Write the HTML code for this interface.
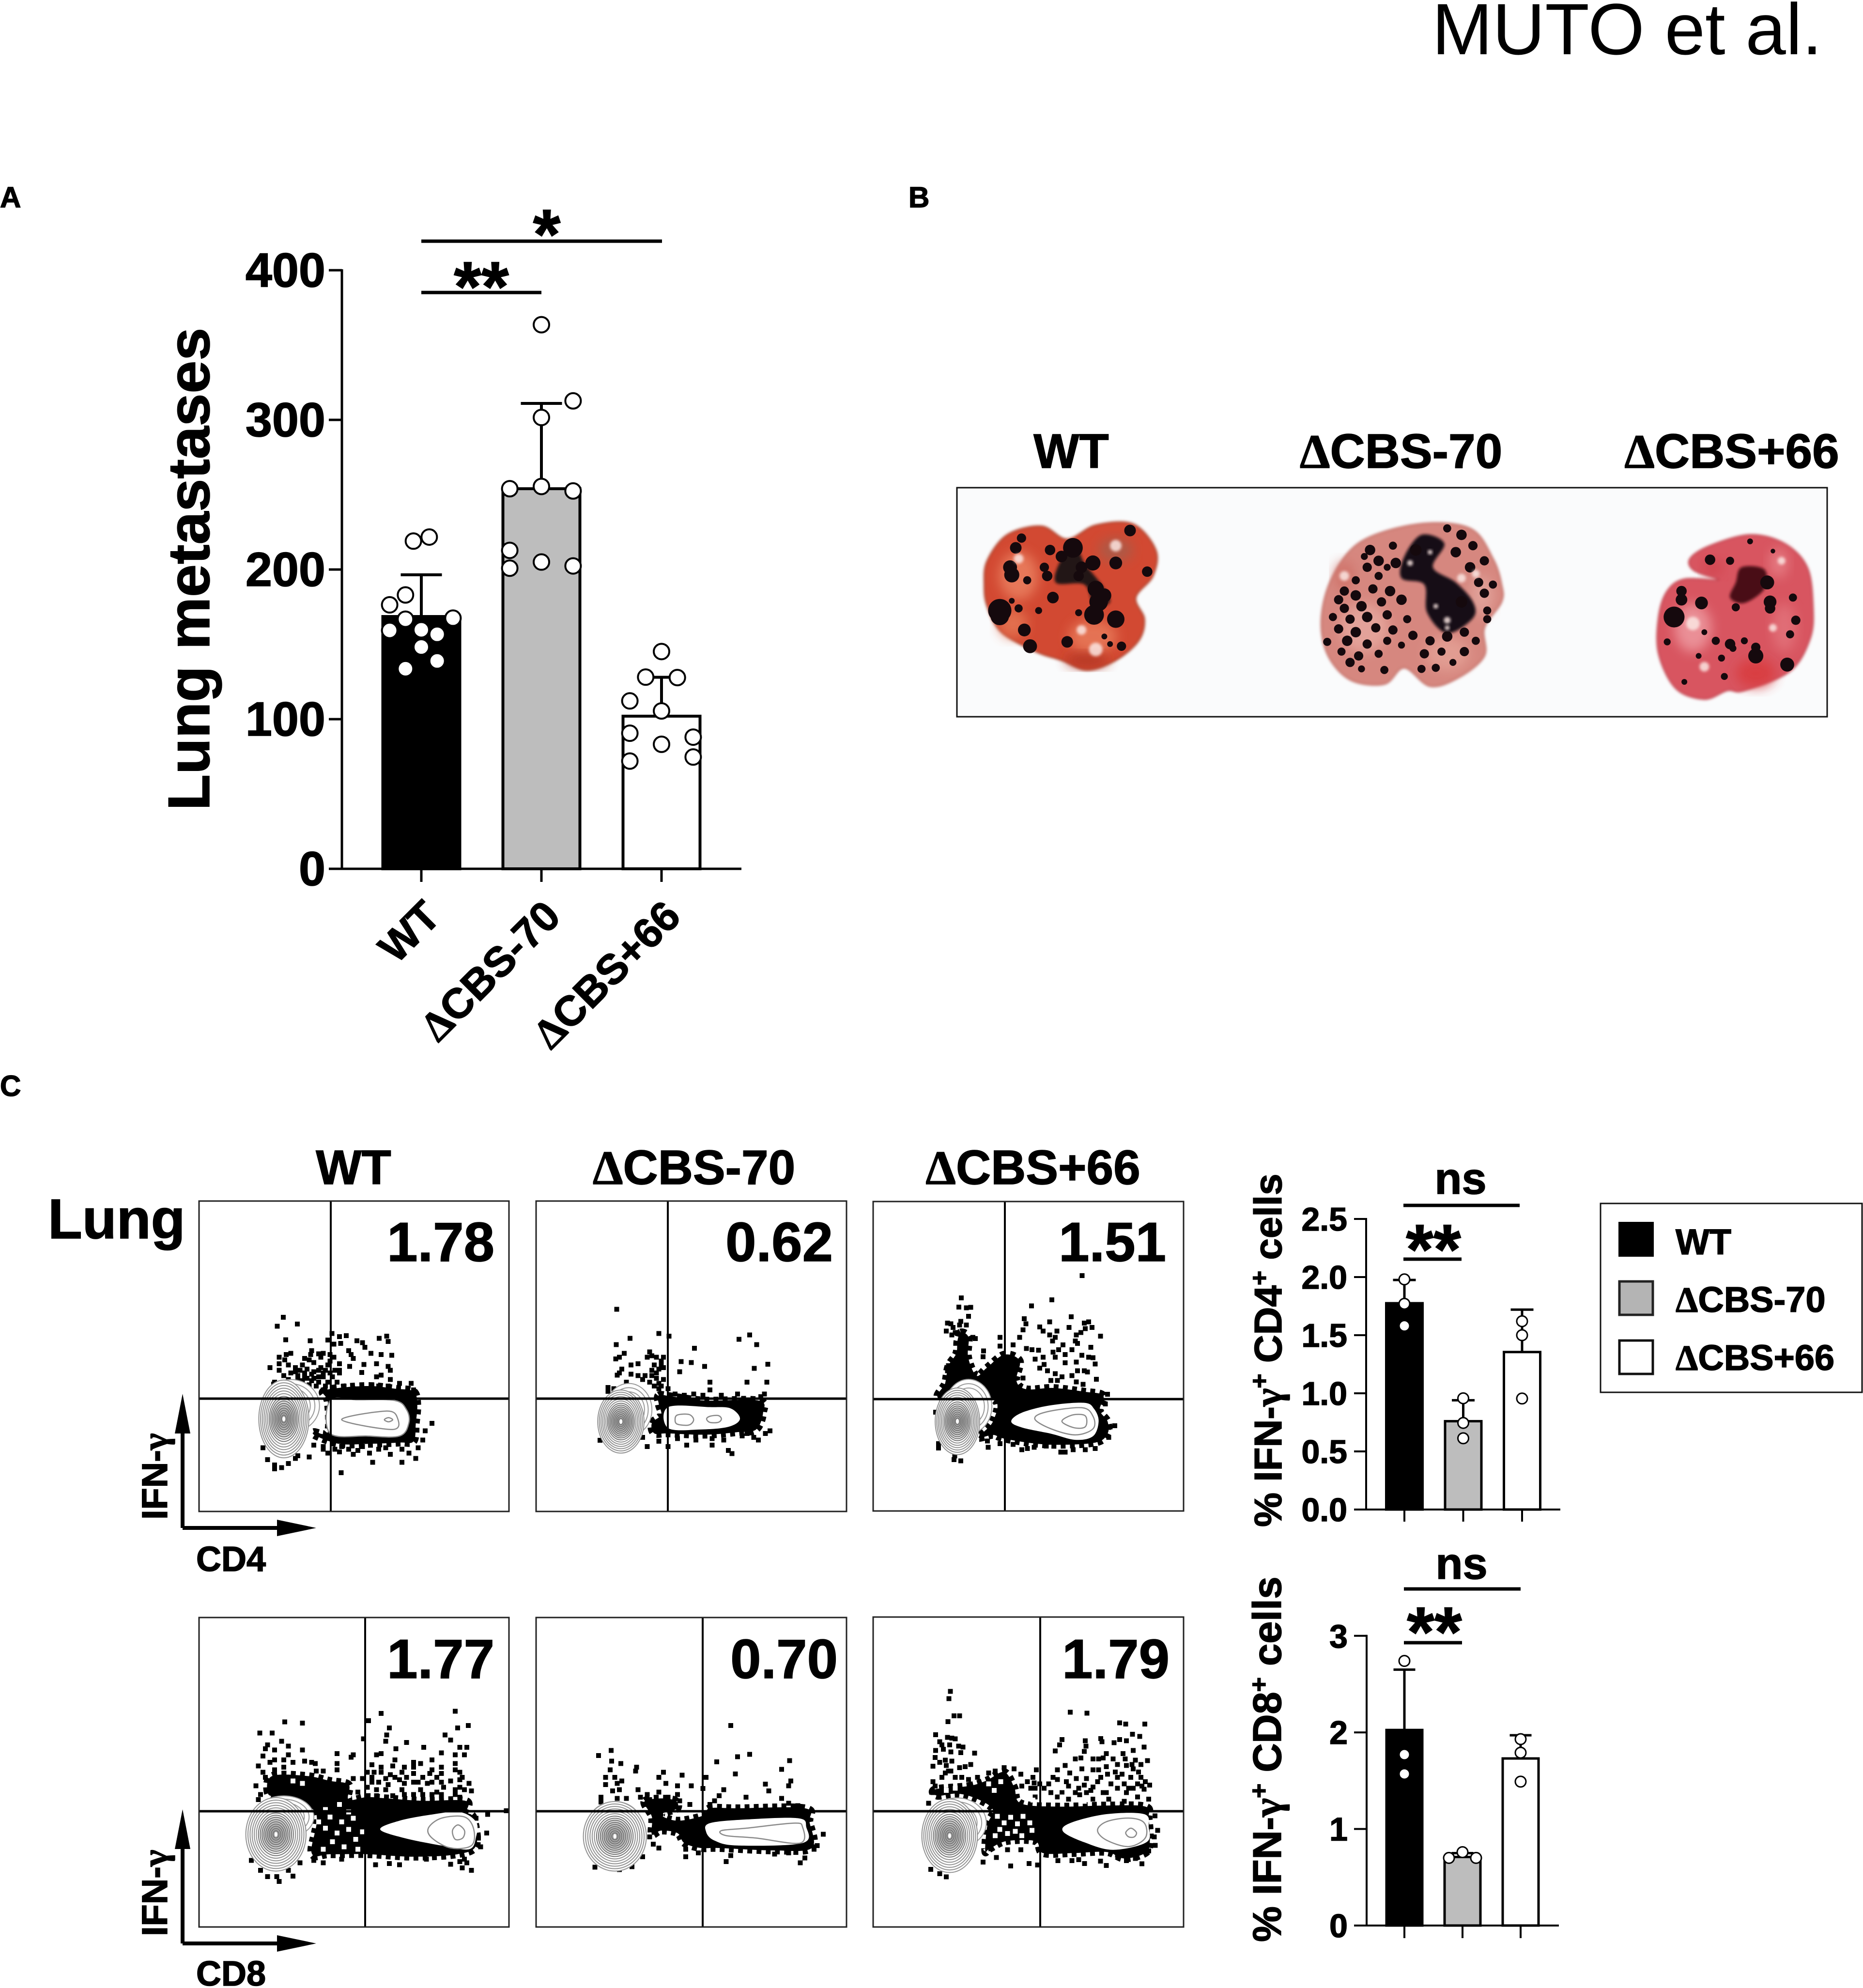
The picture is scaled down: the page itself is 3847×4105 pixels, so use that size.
<!DOCTYPE html>
<html lang="en">
<head>
<meta charset="utf-8">
<title>MUTO et al. figure</title>
<style>
html,body{margin:0;padding:0;background:#fff;}
svg{display:block;}
text{font-family:"Liberation Sans",sans-serif;fill:#000;}
.b{font-weight:700;stroke:#000;stroke-width:1.5px;}
.sym{font-family:"Liberation Serif",serif;}
</style>
</head>
<body>
<svg id="figure" xmlns="http://www.w3.org/2000/svg" width="3847" height="4105" viewBox="0 0 3847 4105">
<defs>
<filter id="soft" x="-30%" y="-30%" width="160%" height="160%"><feGaussianBlur stdDeviation="12"/></filter>
<filter id="softer" x="-30%" y="-30%" width="160%" height="160%"><feGaussianBlur stdDeviation="3"/></filter>
</defs>
<rect x="0" y="0" width="3847" height="4105" fill="#fff"/>
<text x="2957" y="112" font-size="150">MUTO et al.</text>
<text class="b" x="0" y="428" font-size="60">A</text>
<text class="b" x="1876" y="428" font-size="60">B</text>
<text class="b" x="0" y="2263" font-size="60">C</text>

<g id="panel-a">
<text class="b" transform="translate(432,1175) rotate(-90)" text-anchor="middle" font-size="122">Lung metastases</text>
<line x1="870" x2="1367" y1="498" y2="498" stroke="#000" stroke-width="7"/>
<line x1="870" x2="1118" y1="604" y2="604" stroke="#000" stroke-width="7"/>
<text class="b" x="1129" y="534" text-anchor="middle" font-size="146">*</text>
<text class="b" x="994" y="642" text-anchor="middle" font-size="146">**</text>
</g>

<g id="panel-b">
<text class="b" x="2212" y="966" text-anchor="middle" font-size="100">WT</text>
<text class="b" x="2893" y="966" text-anchor="middle" font-size="100"><tspan class="sym">Δ</tspan>CBS-70</text>
<text class="b" x="3576" y="966" text-anchor="middle" font-size="100"><tspan class="sym">Δ</tspan>CBS+66</text>
<rect x="1976" y="1007" width="1797" height="473" fill="#fafbfc" stroke="#111" stroke-width="3"/>
<g id="lungs"></g>
</g>

<g id="panel-c">
<text class="b" x="730" y="2445" text-anchor="middle" font-size="100">WT</text>
<text class="b" x="1433" y="2445" text-anchor="middle" font-size="100"><tspan class="sym">Δ</tspan>CBS-70</text>
<text class="b" x="2133" y="2445" text-anchor="middle" font-size="100"><tspan class="sym">Δ</tspan>CBS+66</text>
<text class="b" x="99" y="2557" font-size="116">Lung</text>

<g id="flow-plots"></g>

<text class="b" x="1021" y="2604" text-anchor="end" font-size="114">1.78</text>
<text class="b" x="1720" y="2604" text-anchor="end" font-size="114">0.62</text>
<text class="b" x="2408" y="2604" text-anchor="end" font-size="114">1.51</text>
<text class="b" x="1021" y="3465" text-anchor="end" font-size="114">1.77</text>
<text class="b" x="1730" y="3465" text-anchor="end" font-size="114">0.70</text>
<text class="b" x="2415" y="3465" text-anchor="end" font-size="114">1.79</text>

<g>
<path d="M377 3155V2950M377 3155H580" fill="none" stroke="#000" stroke-width="8"/>
<path d="M377 2878L393 2960H361Z" fill="#000"/>
<path d="M653 3155L572 3138V3172Z" fill="#000"/>
<text class="b" transform="translate(345,3138) rotate(-90)" font-size="74">IFN-<tspan class="sym">γ</tspan></text>
<text class="b" x="405" y="3244" font-size="72">CD4</text>
</g>
<g>
<path d="M377 4013V3808M377 4013H580" fill="none" stroke="#000" stroke-width="8"/>
<path d="M377 3736L393 3818H361Z" fill="#000"/>
<path d="M653 4013L572 3996V4030Z" fill="#000"/>
<text class="b" transform="translate(345,3998) rotate(-90)" font-size="74">IFN-<tspan class="sym">γ</tspan></text>
<text class="b" x="405" y="4100" font-size="72">CD8</text>
</g>
</g>

<g id="chart-cd4">
<text class="b" transform="translate(2646,3153) rotate(-90)" font-size="80">% IFN-<tspan class="sym">γ</tspan><tspan dy="-28" font-size="52">+</tspan><tspan dy="28"> CD4</tspan><tspan dy="-28" font-size="52">+</tspan><tspan dy="28"> cells</tspan></text>
<text class="b" x="3016" y="2465" text-anchor="middle" font-size="92">ns</text>
<line x1="2898" x2="3138" y1="2489" y2="2489" stroke="#000" stroke-width="7"/>
<text class="b" x="2960" y="2630" text-anchor="middle" font-size="146">**</text>
<line x1="2898" x2="3018" y1="2600" y2="2600" stroke="#000" stroke-width="7"/>
</g>

<g id="chart-cd8">
<text class="b" transform="translate(2645,4010) rotate(-90)" font-size="83">% IFN-<tspan class="sym">γ</tspan><tspan dy="-28" font-size="52">+</tspan><tspan dy="28"> CD8</tspan><tspan dy="-28" font-size="52">+</tspan><tspan dy="28"> cells</tspan></text>
<text class="b" x="3018" y="3260" text-anchor="middle" font-size="92">ns</text>
<line x1="2899" x2="3140" y1="3281" y2="3281" stroke="#000" stroke-width="7"/>
<text class="b" x="2962" y="3420" text-anchor="middle" font-size="146">**</text>
<line x1="2899" x2="3019" y1="3392" y2="3392" stroke="#000" stroke-width="7"/>
</g>

<g id="legend">
<rect x="3305" y="2485" width="540" height="390" fill="#fff" stroke="#111" stroke-width="3"/>
<rect x="3342" y="2523" width="73" height="72" fill="#000"/>
<rect x="3344" y="2646" width="69" height="69" fill="#b4b4b4" stroke="#222" stroke-width="5"/>
<rect x="3344" y="2768" width="69" height="69" fill="#fff" stroke="#111" stroke-width="5"/>
<text class="b" x="3460" y="2590" font-size="74">WT</text>
<text class="b" x="3460" y="2709" font-size="74"><tspan class="sym">Δ</tspan>CBS-70</text>
<text class="b" x="3460" y="2829" font-size="74"><tspan class="sym">Δ</tspan>CBS+66</text>
</g>
</svg>

<script>
/* ---------- Panel A data ---------- */
const aCategories=['WT','CBS-70','CBS+66'];
const aTicks=[0,100,200,300,400];
const aMeans=[168.6,254,102];
const aErrorTops=[196.5,311,128];
const aWtValues=[219,221.7,183,176.4,166.8,167.5,159.3,159.7,156.7,148.2,133.7,138.9];
const aWtSlots=[-0.5,0.5,-1,-2,-1,2,-2,0,1,0,-1,1];
const aMinus70Values=[363.6,312.7,301.6,254,255.5,252.5,212.8,200.9,205,202.4];
const aMinus70Slots=[0,2,0,-2,0,2,-2,-2,0,2];
const aPlus66Values=[145.2,128.1,127.8,112.2,105.5,90.6,88,83.2,74.7,72];
const aPlus66Slots=[0,-1,1,-2,0,-2,2,0,2,-2];

/* ---------- Panel C CD4 bar chart data ---------- */
const cd4Ticks=['0.0','0.5','1.0','1.5','2.0','2.5'];
const cd4Means=[1.775,0.76,1.355];
const cd4ErrorTops=[1.975,0.94,1.72];
const cd4Wt=[1.98,1.77,1.58];
const cd4Minus70=[0.957,0.745,0.613];
const cd4Plus66=[1.62,1.5,0.955];

/* ---------- Panel C CD8 bar chart data ---------- */
const cd8Ticks=['0','1','2','3'];
const cd8Means=[2.025,0.71,1.73];
const cd8ErrorTops=[2.65,0.75,1.97];
const cd8Wt=[2.74,1.77,1.57];
const cd8Minus70=[0.7,0.76,0.7];
const cd8Minus70Slots=[-1,0,1];
const cd8Plus66=[1.93,1.79,1.49];

/* ---------- Flow plot events (arbitrary channel units) ---------- */
const cd4WtDots=[[319,498],[306,532],[349,524],[324,584],[377,588],[424,560],[440,572],[455,568],[415,585],[428,600],[443,598],[478,588],[490,595],[495,612],[526,578],[542,570],[545,590],[460,625],[465,640],[470,655],[508,635],[530,640],[553,643],[380,625],[378,640],[395,637],[405,635],[420,640],[428,650],[335,635],[325,640],[310,650],[322,660],[365,655],[375,660],[385,670],[360,680],[290,690],[310,675],[330,680],[345,690],[420,665],[415,680],[440,675],[462,685],[493,678],[520,675],[545,685],[550,700],[488,708],[530,718],[520,725],[550,735],[335,710],[320,720],[345,705],[300,745],[298,752],[365,710],[380,715],[395,725],[405,710],[425,725],[435,745],[380,740],[395,745],[410,760],[405,775],[370,695],[385,705],[350,700],[400,690],[410,700],[450,760],[470,770],[510,755],[525,760],[545,760],[570,750],[595,750],[600,775],[640,902],[625,930],[620,965],[610,995],[385,985],[375,1030],[405,1000],[415,1015],[430,1000],[445,990],[460,1000],[470,1020],[490,990],[512,1050],[525,1000],[550,1020],[575,1050],[590,1015],[605,1035],[444,1090],[300,1060],[285,1040],[300,1075],[315,1070],[330,1055],[345,1035],[350,1025],[275,995],[405,990],[490,960],[520,970],[440,1010],[480,1005],[505,1015],[540,995],[575,1000],[350,720],[360,740],[375,755],[390,760],[355,700],[420,710],[430,700],[400,650],[440,710],[415,745],[425,765],[310,700],[330,735],[350,730],[365,725],[440,700],[395,700],[405,725],[385,730],[370,730]];
const cd4WtDense=[[405,780],[450,765],[510,760],[560,770],[600,780],[608,830],[605,900],[600,970],[570,975],[500,980],[440,980],[390,950],[385,935],[415,935],[415,820]];
const cd4WtHollow=[[420,815],[480,812],[560,815],[585,850],[590,900],[570,950],[500,950],[420,940]];
const cd4WtContours=[[[420,815],[480,812],[560,815],[585,850],[590,900],[570,950],[500,950],[420,940]],[[445,888],[540,855],[565,880],[555,925]],[[537,888],[546,880],[555,888],[546,896]]];
const cd4WtRings=[320,885,54,148];
const cd4WtLobe=[335,835,62,100];

const cd4Minus70Dots=[[1039,468],[1068,578],[1038,602],[1130,560],[1152,570],[1303,582],[1326,565],[1341,602],[1207,616],[1055,635],[1045,650],[1037,657],[1110,630],[1115,645],[1105,650],[1140,650],[1135,665],[1178,667],[1200,670],[1229,685],[1365,677],[1336,693],[1085,675],[1070,680],[1050,695],[1045,710],[1040,718],[1120,680],[1130,695],[1140,690],[1125,710],[1115,720],[1175,705],[1070,715],[1085,720],[1095,735],[1110,745],[1130,750],[1060,745],[1020,765],[1033,770],[1020,780],[1240,745],[1320,745],[1363,745],[1240,775],[1150,770],[1130,770],[1165,790],[1185,795],[1205,790],[1225,795],[1265,795],[1300,790],[1358,790],[1350,800],[1003,966],[1105,990],[1095,955],[1190,985],[1245,985],[1288,1017],[1280,1005],[1370,930],[1345,965],[1360,940],[1150,990],[1130,970],[1170,960],[1210,965],[1245,960],[1270,965],[1310,950],[1335,955],[1320,940],[1125,730],[1140,735],[1135,760],[1120,760],[1125,650],[1135,680],[1115,700],[1100,720]];
const cd4Minus70Dense=[[1130,795],[1160,800],[1230,815],[1345,815],[1355,860],[1340,925],[1300,935],[1230,945],[1150,940],[1120,940],[1115,900],[1135,870],[1130,830]];
const cd4Minus70Hollow=[[1150,840],[1240,840],[1285,845],[1305,885],[1280,915],[1220,925],[1150,920]];
const cd4Minus70Contours=[[[1170,870],[1195,868],[1205,888],[1195,908],[1170,905],[1165,888]],[[1240,875],[1258,872],[1265,885],[1258,898],[1240,898],[1233,885]]];
const cd4Minus70Rings=[1048,895,50,120];
const cd4Minus70Lobe=[1065,850,50,100];

const cd4Plus66Dots=[[991,360],[855,458],[763,483],[447,450],[437,487],[470,490],[490,488],[480,525],[445,545],[385,552],[380,585],[730,535],[738,555],[845,547],[942,527],[1000,552],[1020,547],[725,580],[800,568],[815,585],[878,585],[932,570],[1005,575],[1035,570],[1073,605],[710,610],[845,600],[870,610],[858,625],[965,600],[985,590],[960,625],[970,635],[622,610],[622,645],[680,640],[510,615],[548,665],[545,688],[1030,650],[740,655],[765,660],[795,662],[905,640],[885,660],[860,670],[945,660],[915,680],[990,683],[1020,690],[1040,692],[815,690],[870,690],[780,698],[915,713],[965,710],[1050,718],[820,720],[800,735],[835,745],[870,757],[970,745],[1000,745],[1015,750],[725,775],[850,785],[880,785],[900,770],[945,765],[965,790],[995,800],[1055,780],[1105,840],[1095,880],[1138,968],[1110,975],[1095,1000],[1110,1015],[332,913],[345,1040],[345,1058],[565,1030],[568,1055],[622,1040],[680,1043],[720,1065],[745,1060],[775,1055],[830,1050],[895,1075],[915,1075],[950,1065],[1005,1065],[1050,1060],[418,1090],[445,1110],[415,1105],[575,998],[390,725],[385,745],[440,560],[420,590],[410,570],[400,555],[470,560],[455,590],[405,600],[500,610]];
const cd4Plus66Dense=[[445,590],[480,610],[478,690],[515,765],[560,735],[640,680],[710,705],[695,785],[740,820],[860,815],[1000,830],[1085,845],[1070,905],[1105,950],[1105,1000],[1055,1035],[900,1045],[780,1040],[640,1020],[590,1005],[525,1015],[590,950],[590,860],[352,860],[375,795],[390,725],[425,675],[430,625]];
const cd4Plus66Hollow=[[672,950],[720,915],[850,885],[1000,875],[1045,900],[1065,950],[1040,1010],[960,1025],[850,1000],[720,975]];
const cd4Plus66Contours=[[[778,940],[830,912],[990,895],[1040,930],[1040,980],[960,1005],[850,980]],[[900,950],[945,925],[1000,925],[1012,950],[1000,975],[950,975]]];
const cd4Plus66Rings=[430,950,100,135];
const cd4Plus66Lobe=[480,890,105,110];

const cd8WtDots=[[530,463],[690,454],[503,492],[322,497],[360,502],[548,522],[718,512],[695,522],[268,542],[295,542],[542,550],[492,565],[668,550],[680,570],[540,575],[585,580],[315,575],[330,595],[285,590],[360,610],[622,600],[715,600],[700,600],[280,605],[300,610],[530,625],[470,630],[435,625],[465,640],[330,630],[275,635],[562,605],[520,630],[660,622],[640,650],[690,630],[710,630],[615,665],[365,655],[388,665],[435,665],[300,650],[265,675],[320,680],[510,670],[530,680],[555,675],[580,680],[600,680],[690,665],[660,680],[635,705],[660,705],[700,700],[390,695],[405,695],[435,690],[515,700],[550,710],[575,700],[600,705],[620,720],[650,720],[680,735],[525,740],[545,750],[570,730],[600,740],[720,745],[725,775],[665,760],[630,745],[615,770],[575,770],[555,795],[520,795],[480,780],[500,760],[470,725],[490,725],[260,755],[265,810],[385,1055],[405,1065],[445,1050],[518,1072],[548,1068],[570,1072],[628,1050],[680,1070],[700,1060],[715,1065],[725,1095],[705,1085],[270,1095],[285,1120],[310,1140],[305,1120],[330,1095],[340,1118],[250,1055],[355,1065],[745,1000],[758,945],[740,965],[760,870],[800,855],[735,885],[710,1050],[580,790],[640,790],[690,790],[700,760],[510,720],[530,700],[560,720],[585,720],[610,740],[640,740],[660,740],[700,730],[690,770],[650,780],[600,790],[540,770],[510,740],[500,700],[640,690],[600,660],[560,650],[690,690],[705,720],[710,770],[620,790],[580,745],[540,725],[660,790],[700,800],[520,770],[380,660],[320,650],[290,660],[300,690],[275,700],[340,660],[280,720],[310,740],[295,770],[270,790]];
const cd8WtDense=[[285,780],[295,715],[370,715],[420,735],[460,750],[460,810],[500,800],[540,805],[620,815],[712,815],[715,860],[730,885],[735,995],[695,1030],[600,1040],[500,1030],[420,1030],[380,1025],[388,860],[305,805]];
const cd8WtGaps=[[420,880],[445,900],[470,885],[410,925],[435,945],[460,930],[425,980],[450,1000],[475,970],[405,1010],[490,940],[340,735],[360,745],[395,900],[460,860],[410,850],[480,1010],[440,830]];
const cd8WtHollow=[[528,930],[570,895],[640,870],[700,860],[735,900],[735,960],[720,1010],[660,995],[580,965]];
const cd8WtContours=[[[632,925],[660,885],[710,880],[730,930],[725,995],[680,1005],[640,965]],[[684,935],[696,912],[710,935],[706,965],[690,970]]];
const cd8WtRings=[303,950,65,148];
const cd8WtLobe=[320,880,65,85];

const cd8Minus70Dots=[[1285,512],[1027,612],[1000,633],[1326,628],[1300,638],[1028,655],[1048,665],[1255,658],[1412,653],[1025,690],[1082,680],[1080,695],[1395,688],[1295,707],[1140,700],[1130,720],[1180,712],[1232,720],[1015,720],[1035,720],[1050,735],[1015,750],[1040,745],[1415,735],[1410,755],[1360,748],[1367,775],[1170,755],[1200,755],[1145,745],[1030,775],[1045,770],[1085,770],[1105,790],[1225,765],[1270,770],[1318,800],[1260,795],[1250,815],[1240,830],[1395,805],[1410,825],[1430,835],[1005,800],[1005,820],[1040,805],[1060,805],[1197,830],[1090,800],[1130,780],[1150,800],[1120,830],[1130,850],[1160,835],[1170,790],[1485,950],[1472,995],[1465,1010],[1445,1045],[1435,1065],[1275,1060],[1285,1035],[1215,1025],[1188,1040],[1188,1010],[1130,1005],[1118,990],[1110,960],[1095,1040],[992,1082],[1045,1092],[1072,1080],[1380,1030],[1410,1025],[1110,810],[1135,815],[1155,820],[1100,830],[1175,815]];
const cd8Minus70Dense=[[1100,815],[1160,810],[1170,845],[1135,870],[1170,895],[1225,875],[1240,845],[1300,845],[1445,845],[1455,900],[1460,1005],[1380,1015],[1260,1005],[1220,1005],[1185,985],[1170,945],[1135,935],[1115,950],[1115,880]];
const cd8Minus70Hollow=[[1240,905],[1320,890],[1430,885],[1448,920],[1440,985],[1300,995],[1250,975],[1232,940]];
const cd8Minus70Contours=[[[1265,935],[1320,925],[1420,905],[1440,920],[1435,985],[1340,965],[1275,955]]];
const cd8Minus70Rings=[1035,958,68,140];
const cd8Minus70Lobe=[1035,900,55,82];

const cd8Plus66Dots=[[398,432],[392,466],[415,545],[440,545],[388,572],[937,528],[1013,533],[1160,578],[1187,583],[1273,583],[332,632],[385,645],[405,648],[350,665],[420,652],[900,655],[890,680],[1005,660],[1075,650],[1080,665],[1217,630],[1250,640],[1190,660],[1160,655],[1135,670],[1008,685],[870,707],[360,680],[395,680],[435,685],[455,690],[332,705],[367,700],[400,712],[445,715],[507,718],[1000,710],[1270,690],[1220,705],[1100,720],[1085,740],[1065,745],[1040,745],[985,740],[960,745],[1175,720],[1185,745],[1230,750],[1285,752],[330,738],[375,750],[405,755],[320,778],[490,770],[465,780],[440,785],[380,775],[1255,770],[1190,775],[1100,780],[1215,770],[990,790],[915,775],[880,795],[685,790],[640,785],[785,795],[1040,795],[1065,795],[1105,815],[1140,805],[1245,805],[1170,815],[935,810],[715,815],[770,830],[965,835],[1010,835],[1075,830],[860,830],[880,840],[745,850],[775,855],[1275,850],[1295,865],[1120,860],[1040,875],[1000,865],[330,870],[320,850],[300,950],[320,900],[345,900],[1270,885],[930,870],[1290,930],[1240,920],[850,900],[880,920],[930,930],[980,910],[1040,930],[1100,900],[1150,880],[1190,900],[1220,880],[1110,930],[1180,940],[780,920],[820,880],[375,810],[400,800],[420,830],[1150,830],[1210,830],[1240,860],[1180,860],[1060,850],[1010,900],[960,900],[900,900],[840,860],[800,860],[1255,830],[1130,745],[1150,770],[1220,790],[1260,870],[1200,880],[1085,900],[1030,890],[975,880],[920,850],[350,760],[390,800],[360,830],[450,830],[480,840],[520,830],[570,810],[600,800],[720,870],[760,880],[780,880],[1318,1008],[1330,1075],[1315,1105],[1320,1145],[1290,1170],[545,1222],[605,1200],[670,1240],[752,1228],[790,1235],[882,1215],[945,1215],[975,1210],[1002,1228],[1073,1217],[1100,1238],[1260,1230],[1190,1215],[1150,1190],[1230,1205],[310,1255],[350,1275],[380,1290],[655,1165],[715,1165],[605,1130],[580,1160]];
const cd8Plus66Dense=[[480,870],[560,845],[640,805],[685,875],[715,950],[880,965],[1100,960],[1275,965],[1290,1020],[1295,1130],[1275,1180],[1180,1205],[1100,1175],[950,1180],[815,1180],[780,1125],[650,1125],[575,1160],[555,1170],[565,1050],[590,980],[520,930],[430,905],[340,915],[330,885]];
const cd8Plus66Gaps=[[610,1010],[640,1040],[670,1015],[700,1045],[725,1010],[755,1040],[620,1070],[655,1090],[690,1080],[720,1100],[765,1075],[600,1100],[745,910],[770,935],[810,920],[850,935],[900,920],[1000,940],[1060,930],[1150,945],[420,880],[380,890],[570,860],[595,890],[625,850]];
const cd8Plus66Hollow=[[905,1080],[940,1040],[1100,1000],[1270,1000],[1290,1060],[1280,1130],[1130,1165],[1000,1130]];
const cd8Plus66Contours=[[[1060,1075],[1100,1035],[1200,1018],[1270,1040],[1275,1110],[1200,1150],[1100,1120]],[[1187,1085],[1210,1065],[1235,1085],[1225,1105],[1200,1105]]];
const cd8Plus66Rings=[395,1100,125,170];
const cd8Plus66Lobe=[430,1040,130,115];

/* ---------- Lung photo spots ---------- */
const lungWtOutline=[[70,800],[75,690],[110,570],[170,530],[215,590],[265,525],[330,520],[370,640],[365,760],[335,860],[350,960],[340,1060],[300,1150],[250,1195],[205,1150],[160,1110],[100,1020],[75,900]];
const lungWtSpots=[[97,920,20],[97,945,16],[115,720,12],[118,755,13],[150,1085,12],[140,1010,11],[215,1065,10],[262,940,17],[300,960,15],[270,880,16],[265,820,14],[280,850,12],[260,700,13],[300,700,11],[325,550,10],[355,740,9],[225,630,17],[205,670,10],[185,640,9],[135,585,8],[125,630,10],[175,720,8],[240,720,10],[130,910,7],[118,875,5],[145,780,7],[235,930,6],[310,1085,8],[280,1040,5],[290,1075,5],[180,760,9],[165,920,6],[235,760,9],[190,860,10]];
const lungWtCore=[[205,680],[228,610],[245,700],[275,800],[290,880],[262,895],[245,800],[195,790]];
const lungWtGlints=[[130,680,10],[300,620,12],[265,1100,14],[240,1010,10]];
const lungMinusOutline=[[660,950],[680,760],[730,600],[830,520],[920,540],[960,680],[975,800],[975,880],[945,1000],[945,1130],[900,1230],[850,1270],[805,1185],[770,1260],[710,1240],[670,1120]];
const lungMinusSpots=[[700,830,8],[720,780,7],[740,720,8],[760,690,9],[745,640,9],[690,870,8],[720,850,9],[750,820,8],[780,830,9],[700,910,8],[730,900,9],[765,880,8],[800,870,9],[680,950,7],[710,960,8],[740,950,9],[775,940,8],[810,960,7],[690,1005,8],[720,1020,9],[755,1000,8],[785,1010,8],[670,1065,7],[705,1060,9],[740,1075,8],[775,1060,7],[695,1110,7],[725,1130,8],[760,1120,7],[710,1160,8],[770,1195,7],[730,1190,6],[835,1190,7],[860,1185,7],[890,1160,6],[840,1120,8],[870,1110,7],[910,1110,8],[930,1060,7],[850,1060,8],[880,1040,9],[910,1020,8],[800,1080,6],[820,1035,8],[950,920,7],[945,840,8],[960,800,7],[935,790,8],[945,690,8],[905,570,9],[925,620,8],[880,540,7],[760,760,7],[735,670,6],[775,720,6],[785,620,7],[895,650,9],[920,720,9],[825,640,10],[790,700,9],[905,880,10],[950,960,7]];
const lungMinusCore=[[835,570],[875,610],[855,720],[895,790],[925,880],[925,955],[880,1025],[845,930],[840,800],[800,770],[805,670]];
const lungMinusGlints=[[880,965,7],[815,700,6],[905,770,9],[860,900,5],[880,1000,5],[930,750,8],[700,760,10],[850,650,5]];
const lungPlusOutline=[[1250,950],[1265,830],[1295,775],[1355,778],[1312,735],[1305,680],[1340,620],[1410,570],[1470,610],[1510,720],[1520,900],[1515,1050],[1480,1200],[1400,1290],[1370,1290],[1330,1330],[1280,1280],[1250,1120]];
const lungPlusSpots=[[1277,950,18],[1325,885,11],[1290,830,9],[1290,870,10],[1440,790,12],[1445,880,11],[1445,910,9],[1420,1130,13],[1475,1170,12],[1485,860,7],[1375,1075,9],[1375,690,7],[1340,685,9],[1265,1065,6],[1350,1060,7],[1400,1060,6],[1330,1020,5],[1360,1140,6],[1490,965,8],[1480,1030,7],[1320,1130,5],[1385,905,7],[1410,600,5],[1450,645,4],[1365,1225,6],[1295,1250,5],[1420,1090,8],[1380,1095,6]];
const lungPlusCore=[[1395,720],[1435,730],[1435,820],[1400,885],[1375,860],[1385,790]];
const lungPlusGlints=[[1310,980,14],[1465,690,8],[1330,1180,10],[1450,1000,8]];

/* ---------- helpers ---------- */
const NS='http://www.w3.org/2000/svg';
function make(tag,attrs,parent){
  const n=document.createElementNS(NS,tag);
  for(const k in attrs){n.setAttribute(k,attrs[k]);}
  parent.appendChild(n);
  return n;
}
function smoothPath(pts,mapX,mapY){
  const p=pts.map(q=>[mapX(q[0]),mapY(q[1])]);
  const n=p.length;
  let d='M'+p[0][0].toFixed(1)+' '+p[0][1].toFixed(1);
  for(let i=0;i<n;i++){
    const a=p[(i-1+n)%n],b=p[i],c=p[(i+1)%n],e=p[(i+2)%n];
    const c1x=b[0]+(c[0]-a[0])/6,c1y=b[1]+(c[1]-a[1])/6;
    const c2x=c[0]-(e[0]-b[0])/6,c2y=c[1]-(e[1]-b[1])/6;
    d+='C'+c1x.toFixed(1)+' '+c1y.toFixed(1)+' '+c2x.toFixed(1)+' '+c2y.toFixed(1)+' '+c[0].toFixed(1)+' '+c[1].toFixed(1);
  }
  return d+'Z';
}

/* ---------- bar charts ---------- */
function barChart(root,cfg,means,errs,groups,slots,ticks){
  const yScale=v=>cfg.y0-v*cfg.unit;
  const xScale=i=>cfg.x0+i*cfg.step;
  const fills=['#000','#bdbdbd','#fff'];
  means.forEach((m,i)=>{
    const bar=make('rect',{x:xScale(i)-cfg.barW/2+cfg.sw/2,y:yScale(m),width:cfg.barW-cfg.sw,height:cfg.y0-yScale(m),fill:fills[i],stroke:'#000','stroke-width':cfg.sw},root);
    
    
    const err=make('path',{d:'M'+xScale(i)+' '+yScale(m)+'V'+yScale(errs[i])+'M'+(xScale(i)-cfg.capW/2)+' '+yScale(errs[i])+'H'+(xScale(i)+cfg.capW/2),fill:'none',stroke:'#000','stroke-width':cfg.sw},root);
    
    
  });
  groups.forEach((vals,i)=>{
    vals.forEach((v,j)=>{
      const s=slots[i]?slots[i][j]:0;
      const dot=make('circle',{cx:xScale(i)+s*cfg.slotW,cy:yScale(v),r:cfg.r,fill:'#fff',stroke:'#000','stroke-width':cfg.dotSw},root);
      
      
    });
  });
  const yAxis=make('line',{x1:cfg.axisX,x2:cfg.axisX,y1:yScale(Number(ticks[ticks.length-1]))-2,y2:cfg.y0+2,stroke:'#000','stroke-width':cfg.axisSw},root);
  
  
  const xAxis=make('line',{x1:cfg.axisX-cfg.tick,x2:cfg.axisEnd,y1:cfg.y0,y2:cfg.y0,stroke:'#000','stroke-width':cfg.axisSw},root);
  
  
  ticks.forEach(t=>{
    const y=yScale(Number(t));
    const mark=make('line',{x1:cfg.axisX-cfg.tick,x2:cfg.axisX,y1:y,y2:y,stroke:'#000','stroke-width':cfg.axisSw},root);
    
    
    const lab=make('text',{x:cfg.labelX,y:y+cfg.labelDy,'text-anchor':'end','font-size':cfg.font,'class':'b'},root);
    lab.textContent=t;
    
    
  });
  means.forEach((m,i)=>{
    const mark=make('line',{x1:xScale(i),x2:xScale(i),y1:cfg.y0,y2:cfg.y0+cfg.tick,stroke:'#000','stroke-width':cfg.axisSw},root);
    
    
  });
  return xScale;
}
const panelA=document.getElementById('panel-a');
const aX=barChart(panelA,{x0:870,step:248,y0:1794,unit:3.09,barW:165,capW:85,sw:6,slotW:32.7,r:16,dotSw:4,axisX:706,axisEnd:1531,axisSw:5,tick:27,labelX:672,labelDy:34,font:99},aMeans,aErrorTops,[aWtValues,aMinus70Values,aPlus66Values],[aWtSlots,aMinus70Slots,aPlus66Slots],aTicks);
aCategories.forEach((c,i)=>{
  const t=make('text',{transform:'translate('+(aX(i)+44)+',1897) rotate(-45)','text-anchor':'end','font-size':87,'class':'b'},panelA);
  
  
  if(i>0){
    const d=make('tspan',{'font-family':'Liberation Serif, serif'},t);
    d.textContent='Δ';
    
    
  }
  t.appendChild(document.createTextNode(c));
});
barChart(document.getElementById('chart-cd4'),{x0:2900,step:121.5,y0:3117,unit:240,barW:80,capW:47,sw:5,slotW:28,r:11,dotSw:3,axisX:2821,axisEnd:3222,axisSw:4,tick:25,labelX:2782,labelDy:24,font:68},cd4Means,cd4ErrorTops,[cd4Wt,cd4Minus70,cd4Plus66],[null,null,null],cd4Ticks);
barChart(document.getElementById('chart-cd8'),{x0:2900,step:120,y0:3976,unit:199.4,barW:79,capW:45,sw:5,slotW:28,r:11,dotSw:3,axisX:2822,axisEnd:3219,axisSw:4,tick:26,labelX:2783,labelDy:24,font:68},cd8Means,cd8ErrorTops,[cd8Wt,cd8Minus70,cd8Plus66],[null,cd8Minus70Slots,null],cd8Ticks);

/* ---------- flow plots ---------- */
function flowPlot(parent,name,box,dom,gate,d){
  const g=make('g',{},parent);
  
  
  const sx=c=>box.x+(c-dom.x0)/(dom.x1-dom.x0)*box.w;
  const sy=c=>box.y+(c-dom.y0)/(dom.y1-dom.y0)*box.h;
  const kx=box.w/(dom.x1-dom.x0),ky=box.h/(dom.y1-dom.y0);
  const bg=make('rect',{x:box.x,y:box.y,width:box.w,height:box.h,fill:'#fff'},g);
  
  
  const dense=make('path',{d:smoothPath(d.dense,sx,sy),fill:'#000',stroke:'#000','stroke-width':16,'stroke-dasharray':'10 9'},g);
  
  
  d.dots.forEach(p=>{
    const r=make('rect',{x:sx(p[0])-5,y:sy(p[1])-5,width:10,height:10,fill:'#000','shape-rendering':'crispEdges'},g);
    
    
  });
  (d.gaps||[]).forEach(p=>{
    const r=make('rect',{x:sx(p[0])-5,y:sy(p[1])-5,width:10,height:10,fill:'#fff','shape-rendering':'crispEdges'},g);
    
    
  });
  const hollow=make('path',{d:smoothPath(d.hollow,sx,sy),fill:'#fff'},g);
  
  
  d.contours.forEach(c=>{
    const line=make('path',{d:smoothPath(c,sx,sy),fill:'none',stroke:'#8a8a8a','stroke-width':2.5},g);
    
    
  });
  const lobeScales=[1,0.84,0.68];
  lobeScales.forEach((s,i)=>{
    const e=make('ellipse',{cx:sx(d.lobe[0]),cy:sy(d.lobe[1]),rx:d.lobe[2]*kx*s,ry:d.lobe[3]*ky*s,fill:i===0?'#fff':'none',stroke:'#999','stroke-width':2},g);
    
    
  });
  const ringScales=[1,0.93,0.86,0.79,0.72,0.65,0.58,0.52,0.46,0.4,0.34,0.28,0.22,0.16,0.1];
  ringScales.forEach((s,i)=>{
    const e=make('ellipse',{cx:sx(d.rings[0]),cy:sy(d.rings[1]),rx:d.rings[2]*kx*s,ry:d.rings[3]*ky*s,fill:i===0?'#fff':(i>6?'rgba(120,120,120,0.14)':'none'),stroke:i>5?'#767676':'#929292','stroke-width':2},g);
    
    
  });
  const core=make('ellipse',{cx:sx(d.rings[0]),cy:sy(d.rings[1]),rx:3,ry:5,fill:'#fff'},g);
  
  
  const hLine=make('line',{x1:box.x,x2:box.x+box.w,y1:box.y+gate.h,y2:box.y+gate.h,stroke:'#000','stroke-width':5},g);
  
  
  const vLine=make('line',{x1:box.x+gate.v,x2:box.x+gate.v,y1:box.y,y2:box.y+box.h,stroke:'#000','stroke-width':4},g);
  
  
  const frame=make('rect',{x:box.x,y:box.y,width:box.w,height:box.h,fill:'none',stroke:'#222','stroke-width':3},g);
  
  
}
const flow=document.getElementById('flow-plots');
flowPlot(flow,'flow-plot-cd4-wt',{x:411,y:2480,w:640,h:641},{x0:137,x1:806,y0:56,y1:1237},{v:272,h:408},{dots:cd4WtDots,dense:cd4WtDense,hollow:cd4WtHollow,contours:cd4WtContours,rings:cd4WtRings,lobe:cd4WtLobe});
flowPlot(flow,'flow-plot-cd4-minus70',{x:1107,y:2480,w:641,h:641},{x0:865,x1:1535,y0:56,y1:1237},{v:272,h:408},{dots:cd4Minus70Dots,dense:cd4Minus70Dense,hollow:cd4Minus70Hollow,contours:cd4Minus70Contours,rings:cd4Minus70Rings,lobe:cd4Minus70Lobe});
flowPlot(flow,'flow-plot-cd4-plus66',{x:1803,y:2481,w:641,h:639},{x0:51,x1:1447,y0:60,y1:1313},{v:272,h:408},{dots:cd4Plus66Dots,dense:cd4Plus66Dense,hollow:cd4Plus66Hollow,contours:cd4Plus66Contours,rings:cd4Plus66Rings,lobe:cd4Plus66Lobe});
flowPlot(flow,'flow-plot-cd8-wt',{x:411,y:3340,w:640,h:639},{x0:137,x1:806,y0:77,y1:1323},{v:343,h:400},{dots:cd8WtDots,gaps:cd8WtGaps,dense:cd8WtDense,hollow:cd8WtHollow,contours:cd8WtContours,rings:cd8WtRings,lobe:cd8WtLobe});
flowPlot(flow,'flow-plot-cd8-minus70',{x:1107,y:3340,w:641,h:639},{x0:865,x1:1535,y0:77,y1:1323},{v:344,h:400},{dots:cd8Minus70Dots,dense:cd8Minus70Dense,hollow:cd8Minus70Hollow,contours:cd8Minus70Contours,rings:cd8Minus70Rings,lobe:cd8Minus70Lobe});
flowPlot(flow,'flow-plot-cd8-plus66',{x:1803,y:3339,w:641,h:640},{x0:51,x1:1447,y0:88,y1:1522},{v:345,h:401},{dots:cd8Plus66Dots,gaps:cd8Plus66Gaps,dense:cd8Plus66Dense,hollow:cd8Plus66Hollow,contours:cd8Plus66Contours,rings:cd8Plus66Rings,lobe:cd8Plus66Lobe});

/* ---------- lung photo ---------- */
const lx=z=>1950+z*1.18,ly=z=>850+z*0.4464;
function lung(parent,name,outline,base,edge,patches,core,coreColor,spots,glints){
  const g=make('g',{},parent);
  
  
  const shape=make('path',{d:smoothPath(outline,lx,ly),fill:base,stroke:edge,'stroke-width':3,filter:'url(#softer)'},g);
  
  
  patches.forEach(p=>{
    const e=make('ellipse',{cx:lx(p[0]),cy:ly(p[1]),rx:p[2],ry:p[3],fill:p[4],filter:'url(#soft)',opacity:0.85},g);
    
    
  });
  const c=make('path',{d:smoothPath(core,lx,ly),fill:coreColor,filter:'url(#softer)'},g);
  
  
  spots.forEach(s=>{
    const e=make('circle',{cx:lx(s[0]),cy:ly(s[1]),r:s[2]*1.2,fill:'#15090d'},g);
    
    
  });
  glints.forEach(s=>{
    const e=make('circle',{cx:lx(s[0]),cy:ly(s[1]),r:s[2],fill:'#fbe6e2',opacity:0.85,filter:'url(#softer)'},g);
    
    
  });
}
const lungs=document.getElementById('lungs');
lung(lungs,'lung-wt',lungWtOutline,'#d24a33','#a83e26',[[130,760,40,50,'#ea8060'],[260,1040,50,35,'#e87a5a'],[120,980,30,30,'#e57652'],[300,640,35,25,'#a85c48'],[250,1150,45,15,'#b03520']],lungWtCore,'#241214',lungWtSpots,lungWtGlints);
lung(lungs,'lung-minus70',lungMinusOutline,'#d6877f','#c26a62',[[735,1000,50,50,'#e6a79f'],[880,1120,45,35,'#e4a095'],[940,850,25,40,'#e2a49c'],[700,760,20,30,'#cf6f66']],lungMinusCore,'#140a14',lungMinusSpots,lungMinusGlints);
lung(lungs,'lung-plus66',lungPlusOutline,'#d85560','#c24450',[[1310,1000,38,50,'#ee9aa0'],[1470,1000,25,50,'#e2727a'],[1420,1210,40,30,'#d93a3e'],[1460,700,20,30,'#e77f86'],[1345,720,20,18,'#d14450']],lungPlusCore,'#4a0d18',lungPlusSpots,lungPlusGlints);
</script>
</body>
</html>
